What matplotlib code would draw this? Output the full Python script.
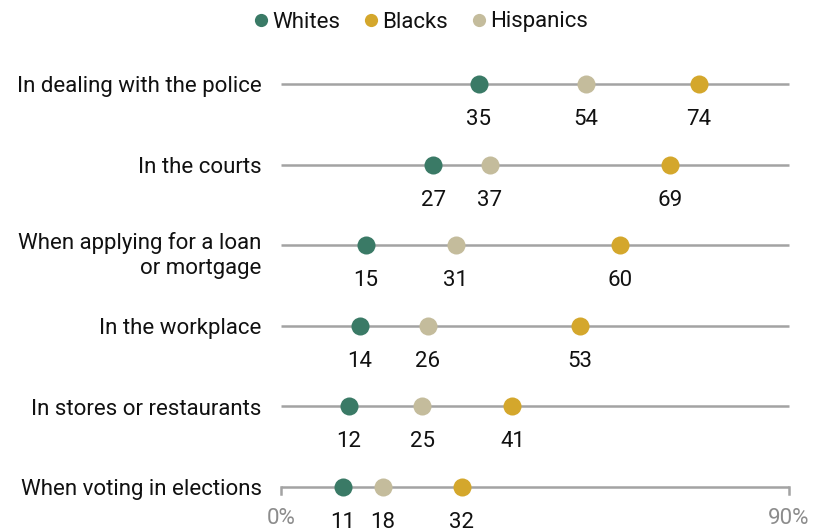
import matplotlib
matplotlib.use("Agg")
import matplotlib.pyplot as plt
from matplotlib.lines import Line2D

# ── data ──────────────────────────────────────────────────────────────────────
categories = [
    "In dealing with the police",
    "In the courts",
    "When applying for a loan\nor mortgage",
    "In the workplace",
    "In stores or restaurants",
    "When voting in elections",
]
whites    = [35, 27, 15, 14, 12, 11]
blacks    = [74, 69, 60, 53, 41, 32]
hispanics = [54, 37, 31, 26, 25, 18]
x_ticks       = [0, 90]
x_tick_labels = ["0%", "90%"]

# ── style ─────────────────────────────────────────────────────────────────────
plt.rcParams["font.family"] = ["Roboto", "DejaVu Sans"]
C_WHITE = "#3a7a66"
C_BLACK = "#d4a72c"
C_HISP  = "#c4bc9c"
C_LINE  = "#a3a3a3"
C_TEXT  = "#111111"
FS = 16

fig = plt.figure(figsize=(8.21, 5.29), dpi=100)
ax = fig.add_axes([281 / 821, 0, 508 / 821, 1])
ax.set_xlim(0, 90)
ax.set_ylim(5 + 42 / 80.6, -84 / 80.6)
ax.axis("off")

series = [(whites, C_WHITE), (hispanics, C_HISP), (blacks, C_BLACK)]

for i, cat in enumerate(categories):
    ax.plot([0, 90], [i, i], color=C_LINE, lw=1.8, zorder=1, clip_on=False,
            solid_capstyle="butt")
    dy = -21 if "\n" in cat else -6   # last-line baseline below the row
    ax.annotate(cat, (0, i), xytext=(-14, dy), textcoords="offset points",
                ha="right", va="baseline", fontsize=FS, color=C_TEXT,
                linespacing=1.3, annotation_clip=False)
    for vals, col in series:
        v = vals[i]
        ax.plot(v, i, "o", ms=13, color=col, mec="none", zorder=3, clip_on=False)
        ax.annotate(f"{v}", (v, i), xytext=(0, -29.5), textcoords="offset points",
                    ha="center", va="baseline", fontsize=FS, color=C_TEXT,
                    annotation_clip=False)

# end ticks on the bottom row
last = len(categories) - 1
for t, lab in zip(x_ticks, x_tick_labels):
    ax.plot([t, t], [last, last + 0.09], color=C_LINE, lw=1.8, clip_on=False, zorder=1)
    ax.annotate(lab, (t, last), xytext=(0, -26.6), textcoords="offset points",
                ha="center", va="baseline", fontsize=FS, color="#8c8c8c",
                annotation_clip=False)

handles = [
    Line2D([], [], marker="o", ls="none", ms=9.5, color=C_WHITE, mec="none", label="Whites"),
    Line2D([], [], marker="o", ls="none", ms=9.5, color=C_BLACK, mec="none", label="Blacks"),
    Line2D([], [], marker="o", ls="none", ms=9.5, color=C_HISP, mec="none", label="Hispanics"),
]
fig.legend(handles=handles, loc="center", bbox_to_anchor=(419 / 821, 1 - 22 / 529),
           ncol=3, frameon=False, fontsize=FS, handletextpad=0.0,
           columnspacing=0.9, handlelength=1.0, labelcolor=C_TEXT)

fig.savefig("out.png", dpi=100)
